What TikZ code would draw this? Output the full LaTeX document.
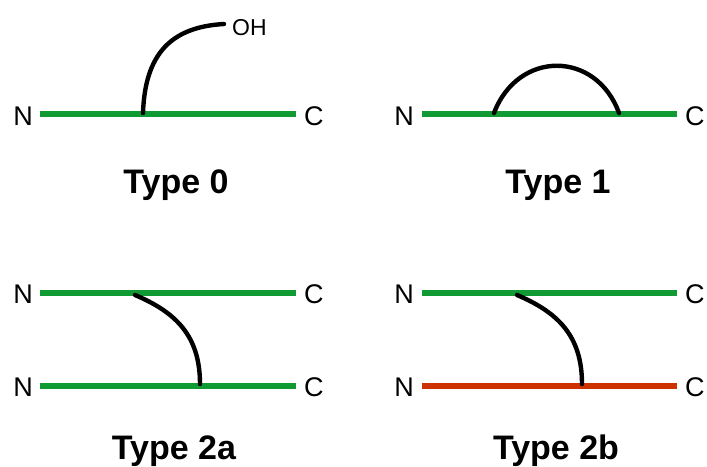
\documentclass[tikz,border=0pt]{standalone}
\usepackage{fontspec}
\setmainfont{Liberation Sans}
\definecolor{chaingreen}{RGB}{16,154,52}
\definecolor{chainred}{RGB}{204,51,0}
\tikzset{
  chain/.style={line width=6pt, draw=chaingreen},
  redchain/.style={line width=6pt, draw=chainred},
  link/.style={line width=4.4pt, line cap=round, draw=black},
  term/.style={font=\fontsize{27}{27}\selectfont, inner sep=0pt, anchor=base},
  tag/.style={font=\fontsize{23}{23}\selectfont, inner sep=0pt, anchor=base west},
  caption/.style={font=\bfseries\fontsize{34}{34}\selectfont, inner sep=0pt, anchor=base}
}
\begin{document}
\begin{tikzpicture}[x=1pt,y=-1pt]
\useasboundingbox (0,0) rectangle (707,466);

% ---------- Type 0 ----------
\coordinate (z0a) at (40,114);
\coordinate (z0b) at (296,114);
\draw[chain] (z0a) -- (z0b);
\node[term, anchor=base east] (n0) at (33,125) {N};
\node[term, anchor=base west] (c0) at (304,125) {C};
\coordinate (z0s) at (143,113);
\node[tag] (oh) at (232,35) {OH};
\coordinate (z0e) at (224,24);
\draw[link] (z0s) .. controls (145,55) and (170,27) .. (z0e);
\node[caption] (t0) at (176,193) {Type 0};

% ---------- Type 1 ----------
\coordinate (z1a) at (422,114);
\coordinate (z1b) at (677,114);
\draw[chain] (z1a) -- (z1b);
\node[term, anchor=base east] (n1) at (414,125) {N};
\node[term, anchor=base west] (c1) at (685,125) {C};
\coordinate (z1s) at (494,113);
\coordinate (z1e) at (619,113);
\draw[link] (z1s) .. controls (518,50) and (596,50) .. (z1e);
\node[caption] (t1) at (558,193) {Type 1};

% ---------- Type 2a ----------
\coordinate (z2a) at (40,293);
\coordinate (z2b) at (296,293);
\coordinate (z2c) at (40,386);
\coordinate (z2d) at (296,386);
\draw[chain] (z2a) -- (z2b);
\draw[chain] (z2c) -- (z2d);
\node[term, anchor=base east] (n2a) at (33,303) {N};
\node[term, anchor=base west] (c2a) at (304,303) {C};
\node[term, anchor=base east] (n2b) at (33,396) {N};
\node[term, anchor=base west] (c2b) at (304,396) {C};
\coordinate (z2s) at (135,295);
\coordinate (z2e) at (200,384);
\draw[link] (z2s) .. controls (175,312) and (200,335) .. (z2e);
\node[caption] (t2a) at (174,459) {Type 2a};

% ---------- Type 2b ----------
\coordinate (z3a) at (422,293);
\coordinate (z3b) at (677,293);
\coordinate (z3c) at (422,386);
\coordinate (z3d) at (677,386);
\draw[chain] (z3a) -- (z3b);
\draw[redchain] (z3c) -- (z3d);
\node[term, anchor=base east] (n3a) at (414,303) {N};
\node[term, anchor=base west] (c3a) at (685,303) {C};
\node[term, anchor=base east] (n3b) at (414,396) {N};
\node[term, anchor=base west] (c3b) at (685,396) {C};
\coordinate (z3s) at (517,295);
\coordinate (z3e) at (582,384);
\draw[link] (z3s) .. controls (557,312) and (582,335) .. (z3e);
\node[caption] (t2b) at (556,459) {Type 2b};
\end{tikzpicture}
\end{document}
